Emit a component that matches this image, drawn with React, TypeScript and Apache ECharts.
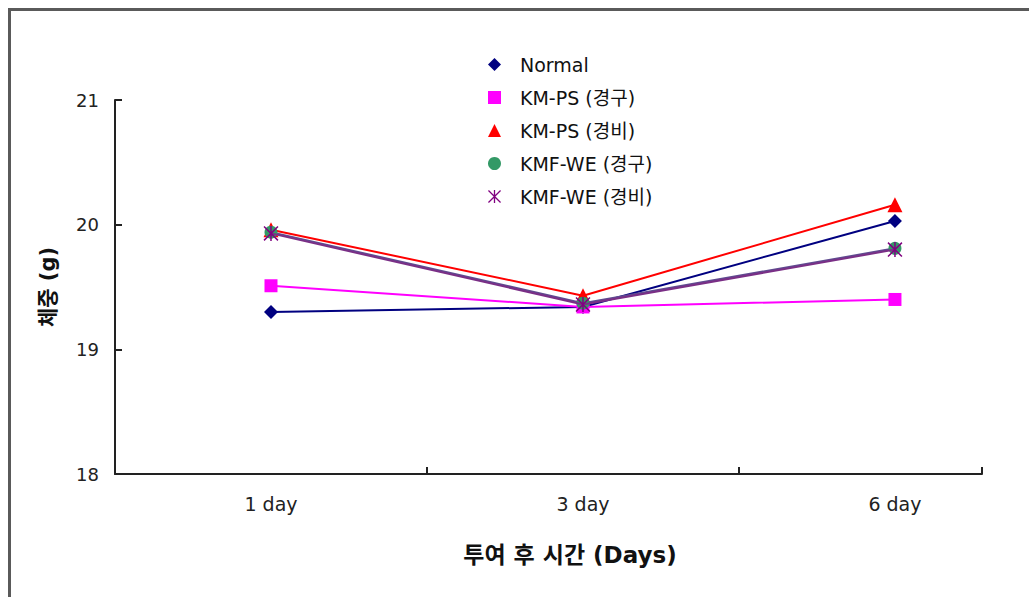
import React, { useEffect, useRef } from "react";
import * as echarts from "echarts";

// Body weight (g) after administration, by group
const categories = ["1 day", "3 day", "6 day"];
const seriesNames = ["Normal", "KM-PS (경구)", "KM-PS (경비)", "KMF-WE (경구)", "KMF-WE (경비)"];
const normal = [19.3, 19.34, 20.03];
const kmpsOral = [19.51, 19.34, 19.4];
const kmpsNasal = [19.96, 19.43, 20.16];
const kmfweOral = [19.94, 19.37, 19.81];
const kmfweNasal = [19.93, 19.36, 19.8];
const yTicks = [18, 19, 20, 21];

const colors = ["#000080", "#FF00FF", "#FF0000", "#339966", "#800080"];
const lineColors = ["#000080", "#FF00FF", "#FF0000", "#5f4a8f", "#7a2f86"];

// asterisk marker: X plus vertical bar
const asterisk =
  "path://M9,0 L11,0 L11,20 L9,20 Z M0,1.4 L1.4,0 L20,18.6 L18.6,20 Z M18.6,0 L20,1.4 L1.4,20 L0,18.6 Z";
const symbols = ["diamond", "rect", "triangle", "circle", asterisk];
const symbolSizes = [14, 13, 15, 13, 15];

const FONT = "'DejaVu Sans', 'Noto Sans CJK KR', sans-serif";

export default function App() {
  const ref = useRef<HTMLDivElement>(null);
  useEffect(() => {
    if (!ref.current) return;
    const chart = echarts.init(ref.current, null, { renderer: "svg" });
    const values = [normal, kmpsOral, kmpsNasal, kmfweOral, kmfweNasal];
    const series = values.map((vals, i) => ({
      name: seriesNames[i],
      type: "line",
      data: vals.map((v, j) => [j, v]),
      symbol: symbols[i],
      symbolSize: symbolSizes[i],
      lineStyle: { color: lineColors[i], width: 2 },
      itemStyle: { color: colors[i] },
      z: 2 + i,
    }));
    chart.setOption({
      animation: false,
      backgroundColor: "#ffffff",
      grid: { left: 115, top: 100, width: 867, height: 374, containLabel: false },
      legend: {
        orient: "vertical",
        left: 483,
        top: 50,
        itemWidth: 13,
        itemHeight: 13,
        itemGap: 14,
        data: seriesNames.map((n, i) => ({ name: n, icon: symbols[i] })),
        textStyle: { fontFamily: FONT, fontSize: 19, color: "#111", padding: [0, 0, 0, 14] },
      },
      xAxis: {
        type: "value",
        min: -0.5,
        max: 2.279,
        axisLine: { show: true, onZero: false, lineStyle: { color: "#222", width: 2 } },
        axisTick: {
          show: true,
          inside: true,
          length: 7,
          customValues: [-0.5, 0.5, 1.5, 2.279],
          lineStyle: { color: "#222", width: 2 },
        },
        axisLabel: {
          customValues: [0, 1, 2],
          formatter: (v: number) => categories[Math.round(v)] ?? "",
          fontFamily: FONT,
          fontSize: 19,
          color: "#222",
          margin: 20,
        },
        splitLine: { show: false },
      },
      yAxis: {
        type: "value",
        min: yTicks[0],
        max: yTicks[yTicks.length - 1],
        interval: 1,
        axisLine: { show: true, onZero: false, lineStyle: { color: "#222", width: 2 } },
        axisTick: { show: true, inside: true, length: 7, lineStyle: { color: "#222", width: 2 } },
        axisLabel: { fontFamily: FONT, fontSize: 18, color: "#222", margin: 16 },
        splitLine: { show: false },
      },
      series,
      graphic: [
        {
          type: "line",
          shape: { x1: 9.5, y1: 8, x2: 9.5, y2: 597 },
          style: { stroke: "#5a5a5a", lineWidth: 3 },
        },
        {
          type: "line",
          shape: { x1: 8, y1: 9.5, x2: 1029, y2: 9.5 },
          style: { stroke: "#5a5a5a", lineWidth: 3 },
        },
        {
          type: "text",
          x: 48,
          y: 287,
          rotation: Math.PI / 2,
          style: {
            text: "체중 (g)",
            fontFamily: FONT,
            fontSize: 21,
            fontWeight: "bold",
            fill: "#111",
            align: "center",
            verticalAlign: "middle",
          },
        },
        {
          type: "text",
          x: 570,
          y: 555,
          style: {
            text: "투여 후 시간 (Days)",
            fontFamily: FONT,
            fontSize: 23,
            fontWeight: "bold",
            fill: "#111",
            align: "center",
            verticalAlign: "middle",
          },
        },
      ],
    });
    return () => chart.dispose();
  }, []);
  return (
    <div
      ref={ref}
      style={{ position: "fixed", left: 0, top: 0, width: 1029, height: 597, background: "#fff" }}
    />
  );
}
